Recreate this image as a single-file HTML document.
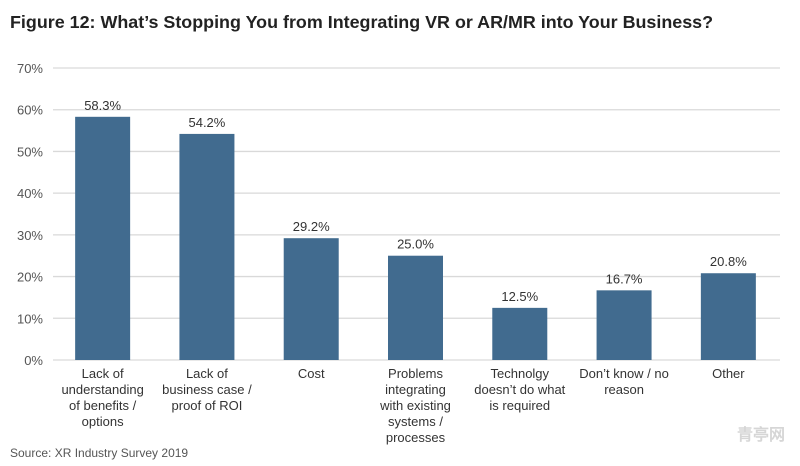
<!DOCTYPE html>
<html><head><meta charset="utf-8"><style>
body{margin:0;background:#fff;}
svg{display:block;font-family:"Liberation Sans",sans-serif;}
</style></head><body>
<svg id="c" width="800" height="466">
<text x="10" y="28" font-size="17.9" font-weight="bold" fill="#222">Figure 12: What’s Stopping You from Integrating VR or AR/MR into Your Business?</text>
<text x="10" y="457" font-size="12" fill="#555">Source: XR Industry Survey 2019</text>
<text x="785" y="440" font-size="16" font-weight="bold" fill="#ccc" text-anchor="end" opacity="0.8">青亭网</text>
</svg>
<script>
const categories=[["Lack of","understanding","of benefits /","options"],["Lack of","business case /","proof of ROI"],["Cost"],["Problems","integrating","with existing","systems /","processes"],["Technolgy","doesn’t do what","is required"],["Don’t know / no","reason"],["Other"]];
const values=[58.3,54.2,29.2,25.0,12.5,16.7,20.8];
const valueLabels=["58.3%","54.2%","29.2%","25.0%","12.5%","16.7%","20.8%"];
const ticks=[0,10,20,30,40,50,60,70];
const tickLabels=["0%","10%","20%","30%","40%","50%","60%","70%"];
const NS="http://www.w3.org/2000/svg";
const svg=document.getElementById('c');
const x0=50.5,x1=780.5,y0=360,yTop=68,maxV=70;
const y=v=>y0-(v/maxV)*(y0-yTop);
const band=(x1-x0)/categories.length;
const cx=i=>x0+band*(i+0.5);
function mk(t,a){const e=document.createElementNS(NS,t);for(const k in a)e.setAttribute(k,a[k]);svg.appendChild(e);return e;}
ticks.forEach((t,i)=>{
 const g=mk('line',{x1:53,x2:780,y1:y(t),y2:y(t),stroke:'#d9d9d9','stroke-width':1.3});
 
 
 const l=mk('text',{x:43,y:y(t)+5,'font-size':13,fill:'#555','text-anchor':'end'});
 l.textContent=tickLabels[i];
 
 
});
values.forEach((v,i)=>{
 const w=55;
 const r=mk('rect',{x:cx(i)-w/2,y:y(v),width:w,height:y0-y(v),fill:'#416b8f'});
 
 
 const t=mk('text',{x:cx(i),y:y(v)-7,'font-size':13,fill:'#333','text-anchor':'middle'});
 t.textContent=valueLabels[i];
 
 
 categories[i].forEach((ln,j)=>{
  const c=mk('text',{x:cx(i),y:378+j*16,'font-size':13,fill:'#333','text-anchor':'middle'});
  c.textContent=ln;
  
  
 });
});
</script>
</body></html>
